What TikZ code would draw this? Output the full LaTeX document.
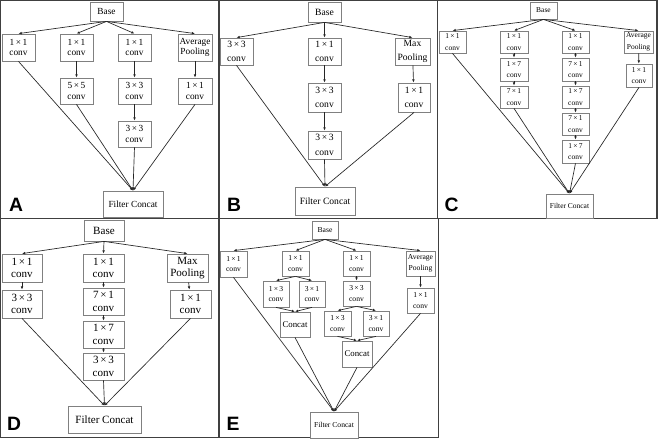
\documentclass[tikz,border=0pt]{standalone}
\usepackage{fontspec}
\setmainfont{Liberation Serif}
\newfontfamily\lblfont{Liberation Sans}
\usetikzlibrary{arrows.meta}
\definecolor{boxgray}{gray}{0.5}
\definecolor{linegray}{gray}{0.15}
\definecolor{framegray}{gray}{0.25}
\newcommand\fntA{\fontsize{7}{7.6}\selectfont}
\newcommand\fntB{\fontsize{7.2}{11}\selectfont}
\newcommand\fntC{\fontsize{5.6}{8.8}\selectfont}
\newcommand\fntD{\fontsize{8.3}{9.5}\selectfont}
\newcommand\fntE{\fontsize{5.7}{8}\selectfont}
\newcommand\bx[7]{\node[bx,font=#6,minimum width={(#4-#2)*0.75pt},minimum height={(#5-#3)*0.75pt}] (#1) at ({(#2+#4)/2},{(#3+#5)/2}) {#7};}
\begin{document}
\begin{tikzpicture}[x=0.75pt,y=-0.75pt,
 bx/.style={draw=boxgray, line width=0.6pt, inner sep=0pt, align=center, fill=white},
 ar/.style={draw=linegray, line width=0.5pt, -{Latex[length=2.4pt,width=2pt]}},
 frame/.style={draw=framegray, line width=0.8pt},
 lbl/.style={font=\lblfont\bfseries\fontsize{14.5}{14.5}\selectfont, inner sep=0pt, anchor=center},
]
\fill[white] (0,0) rectangle (658,439);
\useasboundingbox (0,0) rectangle (658,439);
% frames
\draw[frame] (0.5,0.5) rectangle (219,218.7);
\draw[frame] (219,0.5) rectangle (437.7,218.7);
\draw[frame] (437.7,0.5) rectangle (657,218.7);
\draw[frame] (0.5,218.7) rectangle (219,437.7);
\draw[frame] (219,218.7) rectangle (438.5,437.7);
% ---------- A ----------
\bx{aB}{90}{2}{123}{21}{\fntA}{Base}
\bx{a1}{2}{34}{35}{61}{\fntA}{1\,×\,1\\conv}
\bx{a2}{60}{34}{93}{61}{\fntA}{1\,×\,1\\conv}
\bx{a3}{118}{34}{151}{61}{\fntA}{1\,×\,1\\conv}
\bx{a4}{178}{34}{212}{61}{\fntA}{Average\\Pooling}
\bx{a5}{60}{78}{93}{104}{\fntA}{5\,×\,5\\conv}
\bx{a6}{118}{78}{151}{104}{\fntA}{3\,×\,3\\conv}
\bx{a7}{178}{78}{212}{104}{\fntA}{1\,×\,1\\conv}
\bx{a8}{118}{121}{151}{147}{\fntA}{3\,×\,3\\conv}
\bx{aF}{103}{191}{163}{217}{\fntA}{Filter Concat}
\foreach \t in {a1,a2,a3,a4} \draw[ar] (aB.south) -- (\t.north);
\draw[ar] (a2) -- (a5);
\draw[ar] (a3) -- (a6);
\draw[ar] (a6) -- (a8);
\draw[ar] (a4) -- (a7);
\foreach \s in {a1,a5,a8,a7} \draw[ar] (\s.south) -- (aF.north);
\node[lbl] (lA) at (16,205) {A};
% ---------- B ----------
\bx{bB}{308}{2}{341}{22}{\fntB}{Base}
\bx{b1}{220}{38}{253}{65}{\fntB}{3\,×\,3\\conv}
\bx{b2}{308}{38}{341}{65}{\fntB}{1\,×\,1\\conv}
\bx{b3}{395}{38}{430}{65}{\fntB}{Max\\Pooling}
\bx{b4}{308}{83}{341}{112}{\fntB}{3\,×\,3\\conv}
\bx{b5}{398}{83}{430}{112}{\fntB}{1\,×\,1\\conv}
\bx{b6}{308}{131}{341}{159}{\fntB}{3\,×\,3\\conv}
\bx{bF}{295}{187}{355}{215}{\fntB}{Filter Concat}
\foreach \t in {b1,b2,b3} \draw[ar] (bB.south) -- (\t.north);
\draw[ar] (b2) -- (b4);
\draw[ar] (b4) -- (b6);
\draw[ar] (b3) -- (b5);
\foreach \s in {b1,b6,b5} \draw[ar] (\s.south) -- (bF.north);
\node[lbl] (lB) at (234,205) {B};
% ---------- C ----------
\bx{cB}{530}{2}{557}{19}{\fntC}{Base}
\bx{c1}{439}{31}{466}{53}{\fntC}{1\,×\,1\\conv}
\bx{c2}{500}{31}{528}{53}{\fntC}{1\,×\,1\\conv}
\bx{c3}{562}{31}{589}{53}{\fntC}{1\,×\,1\\conv}
\bx{c4}{624}{31}{653}{53}{\fntC}{Average\\Pooling}
\bx{c5}{500}{58}{528}{81}{\fntC}{1\,×\,7\\conv}
\bx{c6}{500}{86}{528}{108}{\fntC}{7\,×\,1\\conv}
\bx{c7}{562}{58}{589}{81}{\fntC}{7\,×\,1\\conv}
\bx{c8}{562}{86}{589}{108}{\fntC}{1\,×\,7\\conv}
\bx{c9}{562}{113}{589}{135}{\fntC}{7\,×\,1\\conv}
\bx{c10}{562}{140}{589}{163}{\fntC}{1\,×\,7\\conv}
\bx{c11}{626}{64}{652}{87}{\fntC}{1\,×\,1\\conv}
\bx{cF}{546}{194}{593}{218}{\fntC}{Filter Concat}
\foreach \t in {c1,c2,c3,c4} \draw[ar] (cB.south) -- (\t.north);
\draw[ar] (c2) -- (c5);
\draw[ar] (c5) -- (c6);
\draw[ar] (c3) -- (c7);
\draw[ar] (c7) -- (c8);
\draw[ar] (c8) -- (c9);
\draw[ar] (c9) -- (c10);
\draw[ar] (c4) -- (c11);
\foreach \s in {c1,c6,c10,c11} \draw[ar] (\s.south) -- (cF.north);
\node[lbl] (lC) at (451.5,205) {C};
% ---------- D ----------
\bx{dB}{84}{220}{124}{241}{\fntD}{Base}
\bx{d1}{2}{254}{42}{282}{\fntD}{1\,×\,1\\conv}
\bx{d2}{83}{254}{124}{282}{\fntD}{1\,×\,1\\conv}
\bx{d3}{167}{254}{208}{282}{\fntD}{Max\\Pooling}
\bx{d4}{2}{290}{42}{318}{\fntD}{3\,×\,3\\conv}
\bx{d5}{83}{288}{124}{315}{\fntD}{7\,×\,1\\conv}
\bx{d6}{83}{321}{124}{348}{\fntD}{1\,×\,7\\conv}
\bx{d7}{83}{353}{124}{380}{\fntD}{3\,×\,3\\conv}
\bx{d8}{170}{290}{211}{318}{\fntD}{1\,×\,1\\conv}
\bx{dF}{68}{406}{141}{433}{\fntD}{Filter Concat}
\foreach \t in {d1,d2,d3} \draw[ar] (dB.south) -- (\t.north);
\draw[ar] (d1) -- (d4);
\draw[ar] (d2) -- (d5);
\draw[ar] (d5) -- (d6);
\draw[ar] (d6) -- (d7);
\draw[ar] (d3) -- (d8);
\foreach \s in {d4,d7,d8} \draw[ar] (\s.south) -- (dF.north);
\node[lbl] (lD) at (14,423.5) {D};
% ---------- E ----------
\bx{eB}{312}{221}{338}{239}{\fntE}{Base}
\bx{e1}{220}{251}{247}{277}{\fntE}{1\,×\,1\\conv}
\bx{e2}{282}{251}{309}{276}{\fntE}{1\,×\,1\\conv}
\bx{e3}{343}{251}{370}{276}{\fntE}{1\,×\,1\\conv}
\bx{e4}{406}{251}{435}{276}{\fntE}{Average\\Pooling}
\bx{e5}{263}{281}{289}{307}{\fntE}{1\,×\,3\\conv}
\bx{e6}{299}{281}{325}{307}{\fntE}{3\,×\,1\\conv}
\bx{e7}{280}{312}{310}{337}{\fntE\fontsize{6.6}{8}\selectfont}{Concat}
\bx{e8}{343}{281}{370}{306}{\fntE}{3\,×\,3\\conv}
\bx{e9}{324}{311}{351}{336}{\fntE}{1\,×\,3\\conv}
\bx{e10}{363}{311}{389}{336}{\fntE}{3\,×\,1\\conv}
\bx{e11}{342}{341}{372}{367}{\fntE\fontsize{6.6}{8}\selectfont}{Concat}
\bx{e12}{407}{288}{434}{313}{\fntE}{1\,×\,1\\conv}
\bx{eF}{310}{412}{358}{438}{\fntE}{Filter Concat}
\foreach \t in {e1,e2,e3,e4} \draw[ar] (eB.south) -- (\t.north);
\draw[ar] (e2.south) -- (e5.north);
\draw[ar] (e2.south) -- (e6.north);
\draw[ar] (e5.south) -- (e7.north);
\draw[ar] (e6.south) -- (e7.north);
\draw[ar] (e3) -- (e8);
\draw[ar] (e8.south) -- (e9.north);
\draw[ar] (e8.south) -- (e10.north);
\draw[ar] (e9.south) -- (e11.north);
\draw[ar] (e10.south) -- (e11.north);
\draw[ar] (e4) -- (e12);
\foreach \s in {e1,e7,e11,e12} \draw[ar] (\s.south) -- (eF.north);
\node[lbl] (lE) at (233,423.5) {E};
\end{tikzpicture}
\end{document}
